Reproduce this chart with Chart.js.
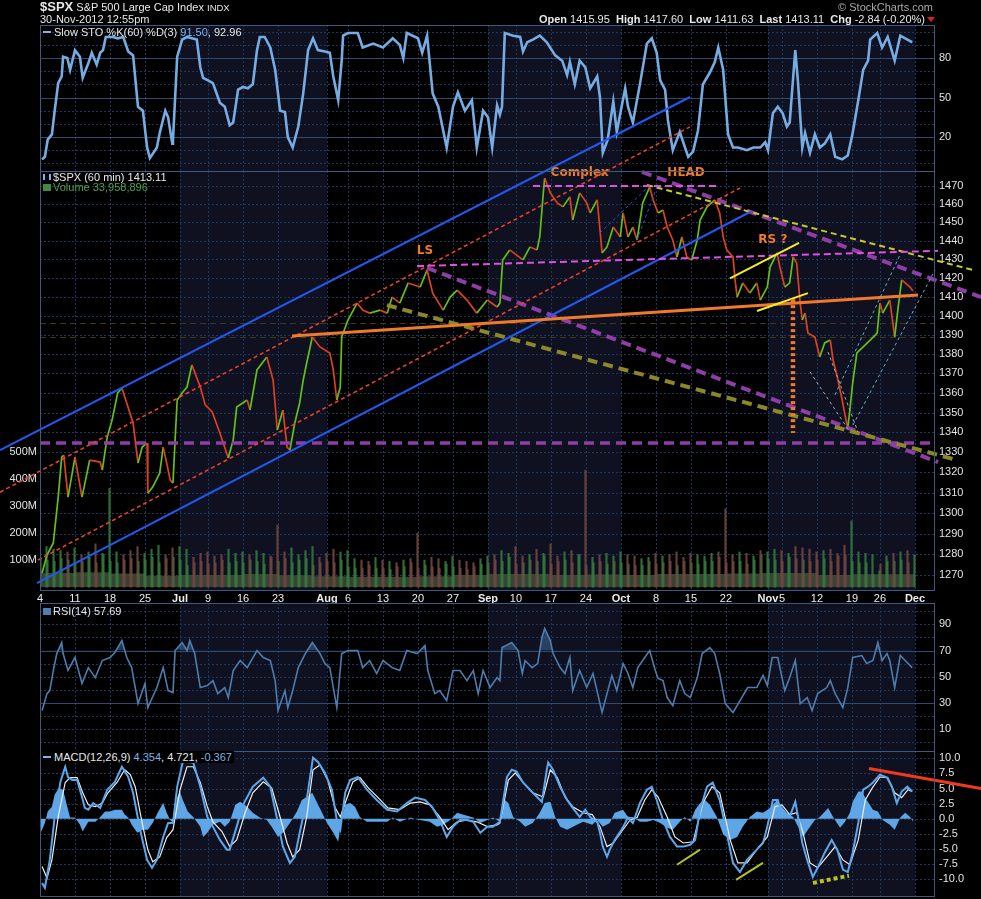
<!DOCTYPE html>
<html>
<head>
<meta charset="utf-8">
<script src="https://cdn.jsdelivr.net/npm/chart.js@4.4.1/dist/chart.umd.min.js"></script>
<style>
  html, body { margin: 0; background: #000; overflow: hidden; }
  #wrap { position: relative; width: 981px; height: 899px; background: #000; color: #e8e8e8;
          font-family: "Liberation Sans", Arial, sans-serif; }
  canvas { position: absolute; left: 0; }
  .t { position: absolute; white-space: nowrap; font-size: 11px; line-height: 12px; }
  .dash { display: inline-block; width: 8px; height: 2px; vertical-align: middle; margin-right: 3px; position: relative; top: -1px; }
  .ico { display: inline-block; width: 8px; height: 8px; margin-right: 2px; vertical-align: middle; position: relative; top: -1px; }
  .blue { color: #7db4ea; }
</style>
</head>
<body>
<div id="wrap">
  <canvas id="sto" width="981" height="146" style="top:25px"></canvas>
  <canvas id="main" width="981" height="605" style="top:0px"></canvas>
  <canvas id="rsi" width="981" height="148" style="top:603px"></canvas>
  <canvas id="macd" width="981" height="148" style="top:751px"></canvas>

  <div class="t" style="left:40px;top:0px;line-height:14px"><b style="font-size:13px">$SPX</b> <span style="font-size:11px">S&amp;P 500 Large Cap Index</span> <span style="font-size:9.5px">INDX</span></div>
  <div class="t" style="left:40px;top:13px">30-Nov-2012 12:55pm</div>
  <div class="t" style="right:48px;top:1px;color:#a9a9a9">&copy; StockCharts.com</div>
  <div class="t" style="right:56px;top:13px"><b>Open</b> 1415.95 &nbsp;<b>High</b> 1417.60 &nbsp;<b>Low</b> 1411.63 &nbsp;<b>Last</b> 1413.11 &nbsp;<b>Chg</b> -2.84 (-0.20%)</div>
  <div style="position:absolute;left:927px;top:17px;width:0;height:0;border-left:4px solid transparent;border-right:4px solid transparent;border-top:5px solid #e02020"></div>

  <div class="t" style="left:43px;top:26px"><span class="dash" style="background:#7db4ea"></span>Slow STO %K(60) %D(3) <span class="blue">91.50</span>, 92.96</div>
  <div class="t" style="left:43px;top:171px"><span class="ico" style="border-left:2px solid #7db4ea;border-right:2px solid #7db4ea;width:4px;height:6px"></span>$SPX (60 min) 1413.11</div>
  <div class="t" style="left:43px;top:181px;color:#4fa04f"><span class="ico" style="background:#3f8a3f;width:8px;height:7px"></span>Volume 33,958,896</div>
  <div class="t" style="left:43px;top:605px"><span class="ico" style="background:#4f7fae;width:8px;height:7px"></span>RSI(14) 57.69</div>
  <div class="t" style="left:41px;top:751px;background:#000;padding:0 2px 0 2px"><span class="dash" style="background:#7db4ea"></span>MACD(12,26,9) <span class="blue">4.354</span>, 4.721, <span class="blue">-0.367</span></div>
</div>

<script>
const FONT = '"Liberation Sans", Arial, sans-serif';

// x axis: trading-day number, 0 = Mon 4 Jun 2012 (60 min bars, 7 per day)
const tickDays   = [0, 5, 10, 15, 20, 24, 29, 34, 41, 44, 49, 54, 59, 64, 68, 73, 78, 83, 88, 93, 98, 104, 106, 111, 116, 120, 125];
const tickLabels = ['4', '11', '18', '25', 'Jul', '9', '16', '23', 'Aug', '6', '13', '20', '27', 'Sep', '10', '17', '24', 'Oct', '8', '15', '22', 'Nov', '5', '12', '19', '26', 'Dec'];
const monthStarts = [0, 20, 41, 64, 83, 104, 125];

// right-hand tick labels of each panel
const stoTicks   = [20, 50, 80];
const stoGrid    = [0, 10, 30, 40, 60, 70, 90, 100];
const priceTicks = [1270, 1280, 1290, 1300, 1310, 1320, 1330, 1340, 1350, 1360, 1370,
                    1380, 1390, 1400, 1410, 1420, 1430, 1440, 1450, 1460, 1470];
const volTicks   = [100e6, 200e6, 300e6, 400e6, 500e6];
const rsiTicks   = [10, 30, 50, 70, 90];
const rsiGrid    = [0, 20, 40, 50, 60, 80, 100];
const macdTicks  = [-10, -7.5, -5, -2.5, 0, 2.5, 5, 7.5, 10];

// $SPX hourly price path
const spxT = [0.3,1.0,1.9,2.6,3.1,3.4,4.0,5.0,6.0,7.1,8.6,8.9,9.6,10.3,11.1,11.7,13.3,14.0,14.6,15.3,
  15.4,16.1,17.1,17.6,18.1,18.6,19.0,19.3,19.6,20.3,21.0,21.7,22.9,23.6,24.6,25.7,26.9,27.6,28.1,29.6,
  30.0,31.0,32.4,33.3,33.9,34.7,35.3,35.7,36.4,37.1,37.6,38.1,38.9,40.0,41.4,41.9,42.4,42.9,43.1,44.0,
  45.3,46.1,47.1,48.6,49.6,50.3,51.4,52.6,54.3,55.3,56.1,57.6,58.6,59.6,61.0,62.4,63.9,65.3,65.7,66.1,
  67.1,69.0,70.0,71.0,71.4,71.9,72.1,72.9,73.9,74.7,75.7,76.1,77.1,78.1,78.6,79.6,80.0,80.3,81.0,81.9,
  82.9,83.3,84.0,84.7,85.3,86.1,87.1,87.6,88.3,89.0,89.6,90.4,91.0,91.7,92.4,93.1,93.9,94.3,95.3,96.4,
  97.1,97.6,98.1,99.0,99.3,99.6,100.4,101.4,102.4,102.9,103.9,104.3,105.3,105.7,106.4,107.1,107.6,108.1,108.6,108.9,
  109.3,109.7,110.7,111.4,112.1,112.9,113.3,113.9,114.6,115.0,115.4,115.7,116.1,116.7,117.6,118.6,119.6,120.0,120.4,121.4,
  122.1,122.6,123.1,123.6,124.3,124.7];
const spxPx = [1271.0,1279.6,1285.4,1307.8,1327.6,1328.6,1307.8,1327.6,1307.8,1326.1,1325.1,1321.1,1337.6,1346.2,1360.0,1362.5,1344.7,1324.6,1332.6,1334.6,
  1309.7,1312.7,1319.6,1332.6,1324.6,1316.2,1314.7,1336.1,1356.4,1360.0,1363.0,1374.4,1363.0,1353.9,1350.3,1339.7,1327.1,1336.1,1352.8,1356.4,
  1351.3,1371.8,1378.5,1366.6,1341.2,1351.3,1332.6,1331.1,1344.7,1355.0,1366.6,1375.4,1388.9,1383.7,1380.6,1371.8,1356.4,1363.0,1388.9,1397.8,
  1406.7,1403.0,1401.4,1403.0,1401.4,1409.9,1406.7,1417.4,1415.2,1424.3,1412.0,1403.0,1409.9,1413.6,1408.3,1401.4,1408.3,1404.6,1406.7,1429.7,
  1435.1,1429.7,1436.7,1435.1,1442.1,1466.2,1474.4,1466.2,1460.7,1458.5,1464.0,1451.3,1466.2,1460.7,1455.2,1462.3,1445.9,1433.5,1436.7,1447.5,
  1442.1,1455.2,1442.1,1447.5,1440.5,1460.7,1469.4,1462.3,1455.2,1456.8,1447.5,1440.5,1431.3,1442.1,1431.3,1429.7,1440.5,1451.3,1458.5,1462.3,
  1455.2,1442.1,1435.1,1431.3,1419.0,1409.9,1417.4,1412.0,1417.4,1408.3,1415.2,1425.9,1433.5,1425.9,1415.2,1417.4,1431.3,1428.1,1406.7,1397.8,
  1401.4,1391.0,1388.9,1378.5,1385.8,1387.3,1376.9,1368.2,1356.4,1348.8,1342.2,1351.3,1365.1,1380.6,1383.7,1387.3,1390.9,1406.7,1401.4,1408.3,
  1388.9,1404.6,1419.0,1417.4,1415.2,1413.1];

// volume (millions): closing-hour and opening-hour spike per trading day, typical hourly level per week
const volPeak = [150,140,135,130,145,120,130,160,125,366,130,120,135,150,125,140,155,120,145,150,
  140,110,125,130,115,120,140,125,130,120,135,125,115,230,130,145,120,135,150,110,125,
  140,130,135,105,100,95,110,100,95,90,100,105,200,100,110,105,95,115,100,95,90,105,115,
  120,135,125,150,115,120,140,125,160,115,130,135,120,433,110,120,125,115,130,
  120,115,105,110,125,115,120,130,110,125,120,115,125,130,290,120,130,125,115,135,130,
  140,135,125,150,145,140,130,135,140,125,155,245,130,125,120,60,115,125,130,135,120];
const volOpen = [110,100,95,105,100,90,95,110,90,120,95,90,100,105,95,100,110,90,105,110,
  100,80,90,95,85,90,100,90,95,90,100,95,85,110,95,105,90,100,105,80,90,
  95,90,100,75,70,70,80,70,70,65,75,75,90,70,80,75,70,85,75,70,65,75,85,
  90,100,95,110,85,90,100,95,115,85,95,100,90,120,80,90,95,85,95,
  90,85,80,80,95,85,90,95,80,95,90,85,95,95,110,90,95,95,85,100,120,
  105,100,95,110,105,100,95,100,105,95,115,120,95,90,90,45,85,95,95,100,90];
const volWeekDays = [0,5,10,15,20,24,29,34,39,44,49,54,59,64,68,73,78,83,88,93,98,103,106,111,116,120];
const volWeekBase = [55,52,55,50,42,45,45,48,44,40,38,38,40,45,48,48,45,46,45,48,48,50,52,52,45,47];

// Slow stochastic %K(60)
const stoT = [0.3,0.7,1.1,1.7,2.1,2.6,3.1,3.3,3.9,4.3,5.0,5.7,6.1,6.9,7.4,8.1,8.6,9.0,9.4,10.4,
  11.1,11.9,12.6,13.3,14.0,14.7,15.3,15.7,16.7,17.1,17.9,18.3,18.9,19.0,19.6,20.3,21.0,21.7,22.4,22.9,
  23.3,24.0,24.7,25.7,26.4,27.1,27.6,28.3,29.0,29.7,30.4,31.0,31.4,32.1,32.9,33.6,34.3,35.0,35.4,36.1,
  36.9,37.6,38.3,39.0,39.7,40.7,41.4,41.9,42.6,43.1,43.3,44.0,45.4,46.1,47.6,49.0,50.4,51.4,51.9,52.4,
  54.0,54.6,55.3,56.1,56.9,58.1,59.0,59.7,60.7,61.7,62.4,63.3,64.0,64.6,65.3,65.7,66.0,66.4,67.6,68.6,
  69.0,69.6,70.4,71.4,72.4,73.6,74.6,75.3,75.7,76.4,77.1,77.9,78.6,79.6,80.0,80.4,81.1,81.9,82.4,83.6,
  84.0,84.7,85.7,86.7,87.4,88.1,88.6,89.3,89.7,90.4,91.4,91.9,92.6,93.3,94.0,94.7,95.7,96.4,96.9,97.6,
  98.3,99.0,99.7,101.0,101.9,102.9,103.6,104.0,104.7,105.4,106.1,106.7,107.1,107.9,108.3,108.9,109.3,110.0,110.7,111.4,
  112.1,112.9,113.6,114.6,115.4,116.1,116.9,117.6,118.3,118.6,119.6,120.3,121.1,122.1,122.9,123.6,124.6];
const stoK = [3,5,18,22,40,61,66,81,80,71,86,81,65,76,84,75,84,86,96,96,
  95,96,85,82,43,40,12,4,12,23,40,35,15,18,81,94,96,95,94,73,
  65,63,61,46,43,29,31,56,58,57,60,86,96,96,88,71,40,39,20,12,
  28,53,86,95,86,85,84,66,48,78,97,99,99,88,91,88,95,90,80,99,
  95,84,97,53,43,12,43,54,40,48,12,40,35,12,44,37,43,99,97,96,
  85,92,94,97,92,82,78,67,77,60,78,73,57,66,50,8,18,47,24,57,
  43,31,60,91,95,84,63,56,33,10,24,16,5,9,25,60,69,77,88,71,
  22,12,12,10,12,12,16,10,38,43,38,28,31,86,61,12,23,8,22,12,
  15,22,5,3,6,23,48,71,78,94,99,88,96,78,97,95,92];

// RSI(14)
const rsiT = [0.3,1.0,1.4,1.9,2.4,3.1,3.3,4.0,5.0,6.0,6.9,7.9,8.9,10.0,10.7,11.7,12.4,13.1,14.0,15.0,
  15.4,16.7,17.6,18.3,19.0,19.3,20.3,21.0,21.4,22.1,22.9,23.9,24.7,25.4,26.4,26.9,27.6,28.6,29.6,31.0,
  31.9,32.9,33.6,34.0,35.0,35.4,36.1,36.9,37.9,38.9,40.0,40.7,41.4,42.4,43.1,44.0,45.4,46.1,47.1,48.1,
  49.0,50.3,51.4,52.4,53.9,55.0,55.4,56.4,57.1,58.1,59.0,60.0,61.0,61.9,62.6,63.3,64.3,65.3,
  65.7,66.0,67.4,68.3,68.9,69.3,70.3,71.1,71.7,72.1,72.9,73.3,74.3,75.0,75.7,76.1,77.1,78.1,79.0,80.0,
  80.3,81.0,81.7,82.4,83.3,84.0,84.7,85.4,86.4,87.1,87.9,88.3,89.0,89.6,90.4,91.4,92.1,92.9,93.9,94.6,
  95.7,96.4,97.1,97.9,99.0,100.0,101.1,102.4,103.3,103.9,104.6,105.4,106.4,107.1,107.9,108.6,109.6,110.3,111.1,112.4,
  112.9,113.6,114.7,115.4,116.1,117.4,118.1,119.0,119.7,120.3,121.0,121.4,122.1,122.9,123.6,124.6];
const rsiV = [24.3,37.2,39.5,54.8,67.7,76.1,67.7,54.8,64.7,44.9,57.0,49.4,62.4,64.7,68.5,77.6,64.7,57.0,29.6,44.9,
  26.6,41.8,57.0,39.5,38.0,70.0,76.1,70.0,77.6,67.7,41.8,43.3,47.1,37.2,41.8,34.2,54.8,62.4,57.0,70.0,
  64.7,62.4,47.1,24.3,39.5,26.6,39.5,57.0,67.7,76.1,67.7,60.1,57.0,26.6,67.7,70.0,70.0,57.0,62.4,52.5,
  62.4,57.0,54.8,70.0,67.7,73.8,54.8,37.2,39.5,31.9,54.8,54.8,47.1,54.8,37.2,54.8,41.8,49.4,
  47.1,72.3,76.1,70.0,52.5,62.4,57.0,60.1,79.9,86.8,77.6,67.7,57.0,52.5,64.7,39.5,54.8,41.8,52.5,29.6,
  22.8,37.2,51.0,39.5,60.1,52.5,41.8,57.0,64.7,70.0,54.8,48.7,47.1,34.2,28.1,47.1,37.2,34.2,49.4,67.7,
  72.3,67.7,52.5,29.6,22.8,31.9,41.8,41.8,51.0,43.3,64.7,64.7,39.5,49.4,62.4,29.6,34.2,24.3,37.2,41.8,
  47.1,37.2,26.6,41.8,64.7,66.2,60.1,62.4,76.1,62.4,67.7,62.4,41.8,66.2,62.4,57.0];

// MACD(12,26,9): MACD line, signal line, histogram
const macdT = [0.3,0.7,1.4,2.1,2.9,3.6,4.0,4.6,5.3,6.0,6.4,6.9,7.6,8.6,9.6,10.7,11.7,12.6,13.3,14.3,
  15.3,16.0,16.7,17.6,18.3,19.0,19.6,20.4,21.1,21.9,22.9,23.9,24.7,25.7,26.7,27.1,28.1,29.0,30.4,31.9,
  32.9,33.9,34.7,35.7,36.4,37.1,38.1,39.0,39.7,40.7,41.7,42.4,42.9,43.6,44.3,45.4,46.7,48.1,49.6,51.0,
  52.4,53.6,55.0,56.0,57.1,58.1,59.0,60.0,61.0,61.9,62.9,63.9,64.7,
  65.7,66.7,67.4,68.1,69.0,70.4,71.7,72.4,72.6,73.3,74.3,75.3,76.1,77.1,77.9,78.6,79.6,80.0,80.4,81.0,
  81.4,82.1,83.1,84.0,84.7,85.7,86.7,87.4,88.1,89.0,90.0,91.0,91.9,92.9,93.6,94.3,95.3,96.1,97.1,98.1,
  99.0,100.0,101.0,102.4,103.3,103.9,104.7,105.4,106.1,107.1,107.9,108.3,108.9,109.6,110.4,111.1,112.1,113.1,113.9,114.7,
  115.4,116.1,116.9,117.6,118.3,119.0,120.0,121.0,121.7,122.4,123.1,123.9,124.6];
const macdV = [-10.6,-11.4,-6.8,0.3,6.0,8.6,6.9,6.4,6.4,3.6,1.8,1.5,2.6,1.8,4.8,6.1,8.6,6.9,4.3,-1.8,
  -6.8,-8.1,-6.8,-3.0,-0.7,-0.7,5.3,9.4,9.4,9.3,5.3,0.3,-1.3,-3.5,-5.1,-5.1,-1.3,2.3,5.3,6.8,
  5.3,-0.2,-4.6,-7.3,-6.3,-2.3,3.1,10.1,9.4,7.6,4.8,-0.2,-1.8,4.3,6.4,6.9,4.8,3.1,1.5,1.2,
  2.6,3.5,3.1,2.0,-0.2,-3.0,-1.3,-0.2,-0.2,-0.5,-2.3,-1.3,-1.3,
  -0.5,6.9,8.1,7.8,6.0,4.3,2.8,8.1,9.3,8.1,5.3,3.1,1.8,0.3,1.5,0.3,-0.5,-2.3,-4.6,-6.3,
  -5.1,-3.5,-1.8,0.2,-0.7,2.6,4.8,5.3,3.1,-0.2,-3.0,-4.6,-4.6,-4.3,-3.5,1.5,5.3,6.0,3.1,-2.3,
  -7.3,-8.8,-6.8,-5.1,-4.0,-1.3,3.1,3.1,0.3,0.3,2.8,0.3,-4.0,-6.8,-9.6,-8.1,-5.6,-3.5,-5.1,-8.4,
  -8.8,-5.6,-0.7,4.8,5.3,6.0,7.3,6.8,5.3,2.6,4.5,5.3,4.5];
const sigT = [0.3,1.0,1.7,2.6,3.6,4.3,5.3,6.1,6.9,7.9,8.9,9.7,11.0,12.1,12.9,13.6,14.6,15.4,16.1,17.1,
  18.1,19.0,20.0,21.0,21.9,22.9,23.9,24.7,26.0,27.1,28.1,29.3,30.4,31.9,33.1,34.3,35.3,36.1,37.1,38.1,
  39.0,40.0,41.1,42.1,42.9,43.9,44.7,45.7,46.9,48.3,49.7,51.4,52.9,54.3,55.7,57.1,58.3,59.6,61.0,62.4,
  63.9,65.3,
  65.7,66.9,67.9,69.0,70.4,71.9,72.9,73.9,75.0,76.1,77.6,78.9,80.0,81.0,81.9,83.1,84.3,85.3,86.4,87.4,
  88.3,89.6,90.7,91.9,93.3,94.7,96.0,97.1,98.6,99.7,101.0,102.4,103.9,105.0,106.0,107.1,108.1,109.0,110.0,111.1,
  112.4,113.6,114.7,115.7,116.9,117.9,118.9,120.0,121.1,122.1,123.1,124.0,124.6];
const sigV = [-7.9,-9.8,-6.8,0.3,6.0,6.8,6.8,4.3,2.3,2.0,2.6,4.3,6.0,8.1,7.3,5.3,-0.7,-5.1,-7.1,-6.3,
  -3.1,-1.8,4.8,8.6,8.6,6.0,2.0,-0.5,-2.1,-4.6,-3.5,1.0,4.3,6.1,5.1,0.3,-4.0,-6.3,-5.1,0.3,
  8.1,8.9,6.4,2.0,0.3,3.6,6.1,6.8,5.1,3.5,1.8,1.5,2.6,2.8,2.3,0.3,-1.8,-0.5,-0.2,-0.5,
  -1.3,-1.0,
  -0.7,6.4,7.6,6.0,4.3,3.6,8.1,6.8,3.6,2.0,1.0,0.7,-1.3,-4.6,-4.0,-2.1,-0.2,0.2,3.1,4.8,
  3.6,0.3,-3.0,-4.0,-3.8,2.6,5.3,4.3,-3.5,-7.3,-7.3,-5.1,-3.0,2.0,2.3,0.7,1.0,-2.3,-7.3,-8.1,
  -6.3,-4.6,-6.8,-7.6,-3.5,3.1,5.1,6.9,6.8,4.3,3.5,4.8,4.5];
const histT = [0.1,0.7,1.1,1.7,2.1,2.7,3.3,3.9,4.3,5.0,5.7,6.1,6.9,7.9,8.6,9.3,10.0,10.7,11.7,12.1,
  12.6,13.1,13.9,14.7,15.4,16.1,16.9,17.6,18.1,18.6,19.0,19.6,20.0,20.4,21.1,21.9,22.9,23.3,23.9,24.7,
  25.7,26.4,27.1,27.9,28.6,29.6,30.4,31.4,32.4,33.1,34.0,34.7,35.7,36.7,37.4,38.1,38.9,39.6,40.3,41.0,
  41.9,42.6,43.1,43.6,44.3,45.0,45.7,46.7,48.1,49.6,50.4,51.4,52.9,54.3,55.7,56.7,57.6,58.6,59.6,60.4,
  61.9,62.9,63.9,64.7,
  65.7,66.4,66.9,67.6,68.6,69.3,70.4,71.4,72.1,72.9,73.6,74.3,75.3,76.7,77.6,78.9,79.6,80.4,81.4,82.1,
  83.3,84.0,84.7,85.7,86.7,87.6,88.6,89.6,90.4,91.4,92.1,92.9,93.6,94.3,95.0,95.7,96.7,97.6,98.6,99.6,
  100.4,101.4,102.4,103.3,104.3,105.3,106.0,106.7,107.6,108.3,109.0,109.7,110.7,111.4,112.6,113.3,114.3,115.0,115.7,116.1,
  116.9,117.4,118.1,119.0,119.7,120.4,121.4,122.1,122.9,123.6,124.3,124.7];
const histV = [-2.3,-0.7,1.2,2.0,4.0,5.1,4.8,2.0,0.2,0.2,-1.0,-2.1,-0.5,-0.5,0.3,1.2,1.2,1.5,1.5,0.7,
  0.2,-1.0,-2.3,-1.8,-1.8,-0.7,1.2,2.6,1.0,-0.2,-0.7,3.6,4.5,3.1,1.2,0.3,-1.3,-3.0,-2.3,-1.0,
  -0.5,-1.3,-0.5,2.3,2.8,2.0,1.0,0.2,-0.2,-1.3,-3.0,-2.3,-0.7,1.2,3.1,3.6,4.3,2.6,1.0,-0.7,
  -2.3,-3.8,0.2,2.3,2.6,2.0,0.3,-0.5,-0.5,-0.5,0.2,-0.5,0.2,-0.2,-0.5,-1.3,-1.0,-0.2,1.0,0.7,
  0.2,-0.7,-0.2,0.2,
  -0.5,3.1,2.6,0.3,-0.5,-1.3,-0.7,1.0,2.6,2.8,0.3,-1.3,-1.8,-1.0,-0.5,-1.0,-0.2,-1.3,-0.7,1.0,
  1.5,0.3,0.3,-0.5,-0.5,-0.2,-0.7,-1.5,-1.8,-0.5,0.3,-0.5,1.5,2.6,3.1,2.3,0.3,-2.6,-3.5,-3.0,
  -1.3,0.3,1.2,1.0,1.8,3.1,2.0,1.0,0.3,-1.3,-3.0,-1.8,-0.2,0.3,1.8,0.3,-1.5,-0.5,1.0,2.8,
  4.5,4.5,3.1,1.5,1.2,-0.2,-1.0,-1.8,0.2,1.0,0.3,-0.5];

// hand-drawn annotations: [day, value, day, value]
const trendLines = [
  [0, 1334.6, 127.86, 1334.6],
  [55.29, 1425.4, 128.29, 1325.1],
  [86.0, 1477.8, 134.43, 1409.9],
  [49.57, 1405.6, 131.0, 1326.1],
  [86.71, 1470.6, 133.29, 1424.3],
  [-5.71, 1331.1, 92.86, 1520.0],
  [-0.43, 1266.2, 101.43, 1455.7],
  [-5.71, 1310.2, 92.86, 1503.0],
  [-0.29, 1277.2, 100.0, 1468.9],
  [36.0, 1389.4, 125.43, 1411.0],
  [70.43, 1470.0, 97.14, 1470.0],
  [53.86, 1426.4, 128.29, 1434.6],
  [98.57, 1419.8, 108.43, 1438.9],
  [102.43, 1402.5, 109.71, 1412.0],
  [107.57, 1408.8, 107.57, 1339.7],
  [113.57, 1359.0, 122.86, 1432.4],
  [116.14, 1343.7, 127.86, 1424.3],
  [110.0, 1370.8, 115.71, 1340.2],
  [112.57, 1381.1, 116.86, 1340.2],
  [80.0, 1444.3, 86.86, 1469.4],
  [85.29, 1440.5, 88.14, 1469.4]
];
const patternNames = ['LS', 'Complex', 'HEAD', 'RS ?'];
const patternAt = [[55.0, 1434.6], [77.1, 1477.2], [92.3, 1477.2], [104.7, 1440.5]];
const olivePriceLevels = [1396.3, 1388.9];
const macdMarks = [
  [91.0, -7.6, 94.29, -5.1],
  [99.43, -10.1, 103.29, -7.3],
  [110.43, -10.6, 115.57, -9.4],
  [118.43, 8.3, 134.43, 5.0]
];

// ---- styles ----
const trendStyles = [
  { c: '#8e3ea6', w: 3.5, d: [10, 6] },
  { c: '#8e3ea6', w: 4, d: [10, 6] },
  { c: '#8e3ea6', w: 4, d: [10, 6] },
  { c: '#8a8828', w: 4, d: [10, 6] },
  { c: '#c8c82a', w: 2, d: [6, 4] },
  { c: '#2358f0', w: 2 },
  { c: '#2358f0', w: 2 },
  { c: '#e8402a', w: 1.6, d: [4, 3] },
  { c: '#e8402a', w: 1.6, d: [4, 3] },
  { c: '#f07a2a', w: 3 },
  { c: '#e050e0', w: 2, d: [7, 4] },
  { c: '#e050e0', w: 2, d: [7, 4] },
  { c: '#f4f020', w: 2 },
  { c: '#f4f020', w: 2 },
  { c: '#f07a2a', w: 4.5, d: [3, 3] },
  { c: '#5fb0c4', w: 1, d: [3, 3] },
  { c: '#5fb0c4', w: 1, d: [3, 3] },
  { c: '#a8a8a8', w: 1, d: [3, 3] },
  { c: '#a8a8a8', w: 1, d: [3, 3] },
  { c: '#3050e8', w: 1, d: [3, 3] },
  { c: '#3050e8', w: 1, d: [3, 3] }
];
const macdMarkStyles = [
  { c: '#b9c21e', w: 2 },
  { c: '#b9c21e', w: 2 },
  { c: '#b9c21e', w: 4, d: [4, 3] },
  { c: '#f03a20', w: 3 }
];

function pts(t, v, scale) {
  return t.map((x, i) => ({ x: x, y: v[i] * (scale || 1) }));
}
function priceAt(t) {
  if (t <= spxT[0]) return spxPx[0];
  for (let i = 1; i < spxT.length; i++) {
    if (t <= spxT[i]) {
      const f = (t - spxT[i - 1]) / (spxT[i] - spxT[i - 1]);
      return spxPx[i - 1] + f * (spxPx[i] - spxPx[i - 1]);
    }
  }
  return spxPx[spxPx.length - 1];
}

const X_MAX = 127.86;

function xAxis(show) {
  return {
    type: 'linear', min: 0, max: X_MAX, display: show, offset: false,
    afterBuildTicks: s => { s.ticks = tickDays.map(v => ({ value: v })); },
    afterFit: s => { if (show) s.height = 15; s.paddingLeft = 0; s.paddingRight = 0; },
    grid: { display: false, drawTicks: false, offset: false },
    border: { display: false },
    ticks: {
      autoSkip: false, maxRotation: 0, padding: 2, color: '#ececec',
      callback: (v, i) => tickLabels[i],
      font: c => ({ family: FONT, size: 11, weight: /[A-Z]/.test(tickLabels[c.index] || '') ? 'bold' : 'normal' })
    }
  };
}
function sideAxis(pos, type, min, max, ticks, fmt, width) {
  return {
    type: type, position: pos, min: min, max: max,
    afterBuildTicks: s => { s.ticks = ticks.map(v => ({ value: v })); },
    afterFit: s => { s.width = width; s.paddingTop = 0; s.paddingBottom = 0; },
    grid: { display: false, drawTicks: false },
    border: { display: false },
    ticks: { autoSkip: false, padding: pos === 'right' ? 4 : 3, color: '#e2e2e2',
             font: { family: FONT, size: 11 }, callback: v => fmt(v) }
  };
}
function options(scales, panel, padding) {
  return {
    responsive: false, animation: false, events: [],
    layout: { padding: padding },
    scales: scales,
    plugins: { legend: { display: false }, tooltip: { enabled: false }, panel: panel }
  };
}

// background, month shading, grid and frame of each panel
const panelPlugin = {
  id: 'panel',
  beforeDatasetsDraw(chart, args, o) {
    const { ctx, chartArea: a, scales } = chart;
    const x = scales.x, y = scales[o.axis];
    ctx.save();
    ctx.beginPath(); ctx.rect(a.left, a.top, a.width, a.height); ctx.clip();
    ctx.fillStyle = '#000'; ctx.fillRect(a.left, a.top, a.width, a.height);
    ctx.fillStyle = '#0f1020';
    for (let i = 1; i < monthStarts.length - 1; i += 2) {
      const x0 = x.getPixelForValue(monthStarts[i]), x1 = x.getPixelForValue(monthStarts[i + 1]);
      ctx.fillRect(x0, a.top, x1 - x0, a.height);
    }
    ctx.lineWidth = 1;
    ctx.strokeStyle = '#1c375a'; ctx.setLineDash([2, 2]);
    tickDays.forEach(d => {
      const px = Math.round(x.getPixelForValue(d)) + 0.5;
      ctx.beginPath(); ctx.moveTo(px, a.top); ctx.lineTo(px, a.bottom); ctx.stroke();
    });
    const hline = v => {
      const py = Math.round(y.getPixelForValue(v)) + 0.5;
      ctx.beginPath(); ctx.moveTo(a.left, py); ctx.lineTo(a.right, py); ctx.stroke();
    };
    (o.dashed || []).forEach(hline);
    ctx.strokeStyle = '#3a3a1c'; ctx.setLineDash([6, 4]);
    (o.olive || []).forEach(hline);
    ctx.setLineDash([]); ctx.strokeStyle = '#2d4b70';
    (o.solid || []).forEach(hline);
    ctx.restore();
  },
  afterDraw(chart) {
    const { ctx, chartArea: a } = chart;
    ctx.save();
    ctx.strokeStyle = '#3b5a80'; ctx.lineWidth = 1;
    ctx.strokeRect(a.left + 0.5, a.top + 0.5, a.width - 1, a.height);
    ctx.restore();
  }
};

function segmentsPlugin(id, lines, styles, yId) {
  return {
    id: id,
    afterDatasetsDraw(chart) {
      const { ctx, scales } = chart;
      const x = scales.x, y = scales[yId];
      ctx.save();
      lines.forEach((l, i) => {
        const s = styles[i];
        ctx.strokeStyle = s.c; ctx.lineWidth = s.w; ctx.setLineDash(s.d || []);
        ctx.beginPath();
        ctx.moveTo(x.getPixelForValue(l[0]), y.getPixelForValue(l[1]));
        ctx.lineTo(x.getPixelForValue(l[2]), y.getPixelForValue(l[3]));
        ctx.stroke();
      });
      if (id === 'trend') {
        ctx.setLineDash([]);
        ctx.fillStyle = '#f07a2a';
        ctx.font = 'bold 12px "DejaVu Sans", Verdana, sans-serif';
        ctx.textAlign = 'center'; ctx.textBaseline = 'middle';
        patternNames.forEach((n, i) => {
          ctx.fillText(n, x.getPixelForValue(patternAt[i][0]), y.getPixelForValue(patternAt[i][1]));
        });
      }
      ctx.restore();
    }
  };
}

// ---- Slow STO panel ----
new Chart(document.getElementById('sto'), {
  type: 'line',
  data: { datasets: [
    { data: pts(stoT, stoK), borderColor: '#77ace3', borderWidth: 2.6, pointRadius: 0 },
    { data: pts(stoT, stoK), borderColor: 'rgba(236,245,255,0.85)', borderWidth: 0.8, pointRadius: 0 }
  ] },
  options: options(
    { x: xAxis(false), y: sideAxis('right', 'linear', -5.8, 105.1, stoTicks, v => String(v), 46) },
    { axis: 'y', dashed: stoGrid, solid: stoTicks },
    { left: 40, top: 0, bottom: 0, right: 0 }),
  plugins: [panelPlugin]
});

// ---- price + volume panel ----
const upColor = 'rgba(52,120,62,0.9)', downColor = 'rgba(112,70,64,0.9)';
const closeColors = volPeak.map((v, i) => priceAt(i + 1) >= priceAt(i + 0.8) ? upColor : downColor);
const openColors = volOpen.map((v, i) => priceAt(i + 0.2) >= priceAt(i) ? upColor : downColor);
const baseSteps = pts(volWeekDays, volWeekBase, 1e6);
baseSteps.push({ x: 125, y: volWeekBase[volWeekBase.length - 1] * 1e6 });

new Chart(document.getElementById('main'), {
  type: 'line',
  data: { datasets: [
    { type: 'line', yAxisID: 'yv', data: baseSteps, stepped: 'after', fill: 'origin',
      backgroundColor: 'rgba(66,78,58,0.85)', borderWidth: 0, pointRadius: 0, order: 6 },
    { type: 'bar', yAxisID: 'yv', data: volOpen.map((v, i) => ({ x: i + 0.07, y: v * 1e6 })),
      backgroundColor: c => openColors[c.dataIndex], barThickness: 1.5, order: 5 },
    { type: 'bar', yAxisID: 'yv', data: volPeak.map((v, i) => ({ x: i + 0.93, y: v * 1e6 })),
      backgroundColor: c => closeColors[c.dataIndex], barThickness: 1.5, order: 4 },
    { type: 'line', yAxisID: 'y', data: pts(spxT, spxPx), borderWidth: 1.7, pointRadius: 0, order: 1,
      segment: { borderColor: c => c.p1.parsed.y >= c.p0.parsed.y ? '#62c018' : '#dc4220' } }
  ] },
  options: Object.assign(options(
    { x: xAxis(true),
      y: sideAxis('right', 'logarithmic', 1262.9, 1478.3, priceTicks, v => String(v), 46),
      yv: sideAxis('left', 'linear', -11e6, 1541e6, volTicks, v => (v / 1e6) + 'M', 40) },
    { axis: 'y', dashed: priceTicks, olive: olivePriceLevels },
    { left: 0, top: 171, bottom: 0, right: 0 }), { datasets: { bar: { grouped: false } } }),
  plugins: [panelPlugin, segmentsPlugin('trend', trendLines, trendStyles, 'y')]
});

// ---- RSI panel ----
new Chart(document.getElementById('rsi'), {
  type: 'line',
  data: { datasets: [
    { data: pts(rsiT, rsiV), borderColor: '#4d7dac', borderWidth: 1.6, pointRadius: 0,
      fill: { target: { value: 70 }, above: 'rgba(77,125,172,0.45)', below: 'rgba(0,0,0,0)' } }
  ] },
  options: options(
    { x: xAxis(false), y: sideAxis('right', 'linear', -6.5, 106.2, rsiTicks, v => String(v), 46) },
    { axis: 'y', dashed: rsiGrid.concat([10, 90]), solid: [30, 70] },
    { left: 40, top: 0, bottom: 0, right: 0 }),
  plugins: [panelPlugin]
});

// ---- MACD panel ----
new Chart(document.getElementById('macd'), {
  type: 'line',
  data: { datasets: [
    { data: pts(histT, histV), borderWidth: 0, pointRadius: 0, fill: 'origin',
      backgroundColor: '#5ea6e6', order: 3 },
    { data: pts(sigT, sigV), borderColor: '#eeeeee', borderWidth: 1.2, pointRadius: 0, order: 2 },
    { data: pts(macdT, macdV), borderColor: '#5ea6ea', borderWidth: 2, pointRadius: 0, order: 1 }
  ] },
  options: options(
    { x: xAxis(false), y: sideAxis('right', 'linear', -12.76, 11.2, macdTicks, v => v.toFixed(1), 46) },
    { axis: 'y', dashed: macdTicks },
    { left: 40, top: 0, bottom: 3, right: 0 }),
  plugins: [panelPlugin, segmentsPlugin('marks', macdMarks, macdMarkStyles, 'y')]
});
</script>
</body>
</html>
